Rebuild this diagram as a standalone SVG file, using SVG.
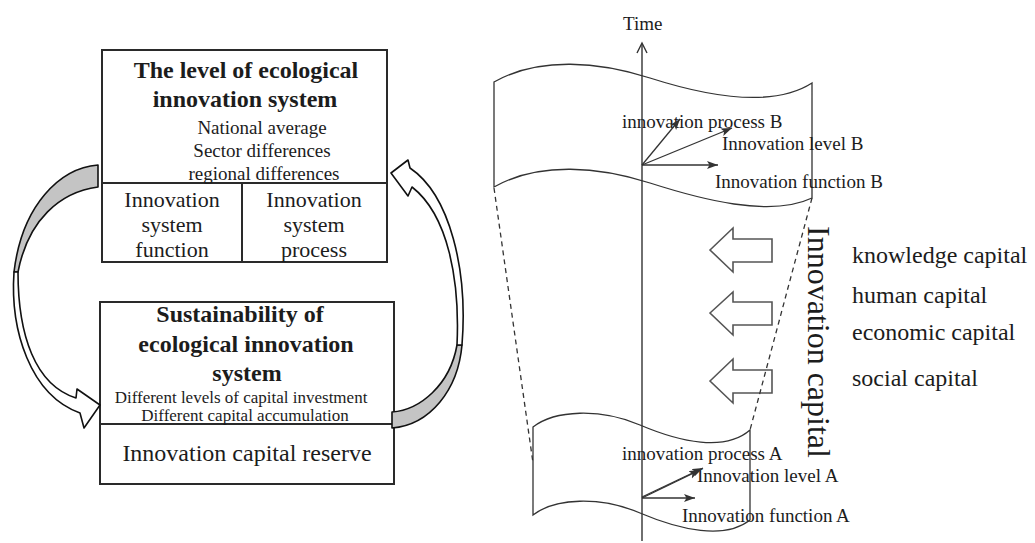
<svg xmlns="http://www.w3.org/2000/svg" width="1035" height="543" viewBox="0 0 1035 543">
<defs>
<style>
.t{font-family:"Liberation Serif","Times New Roman",serif;fill:#1c1c1c}
.b{font-weight:bold}
.box{fill:#fff;stroke:#2a2a2a;stroke-width:2}
.ln{stroke:#2a2a2a;stroke-width:2;fill:none}
.rib{fill:#fff;stroke:#333;stroke-width:1.3}
.dash{stroke:#333;stroke-width:1.3;stroke-dasharray:5 4;fill:none}
.vec{stroke:#333;stroke-width:1.3;fill:none;marker-end:url(#ah)}
.blk{fill:#fff;stroke:#555;stroke-width:1.6}
.cur{fill:#fff;stroke:#111;stroke-width:1.6;stroke-linejoin:round}
.curg{fill:#c4c4c4;stroke:#111;stroke-width:1.6;stroke-linejoin:round}
</style>
<marker id="ah" markerUnits="userSpaceOnUse" markerWidth="12" markerHeight="9" refX="11" refY="4" orient="auto">
<path d="M0,0 L11,4 L0,8 L2.5,4 Z" fill="#333"/>
</marker>
</defs>
<rect width="1035" height="543" fill="#fff"/>

<g id="top-box">
<rect class="box" x="102" y="50" width="285" height="212"/>
<line class="ln" x1="102" y1="183" x2="387" y2="183"/>
<line class="ln" x1="242" y1="183" x2="242" y2="262"/>
<text class="t b" font-size="24" text-anchor="middle" x="246" y="78">The level of ecological</text>
<text class="t b" font-size="24" text-anchor="middle" x="245" y="107">innovation system</text>
<text class="t" font-size="19" text-anchor="middle" x="262" y="134">National average</text>
<text class="t" font-size="19" text-anchor="middle" x="262" y="157">Sector differences</text>
<text class="t" font-size="19" text-anchor="middle" x="264" y="180">regional differences</text>
<text class="t" font-size="22" text-anchor="middle" x="172" y="207">Innovation</text>
<text class="t" font-size="22" text-anchor="middle" x="172" y="232">system</text>
<text class="t" font-size="22" text-anchor="middle" x="172" y="257">function</text>
<text class="t" font-size="22" text-anchor="middle" x="314" y="207">Innovation</text>
<text class="t" font-size="22" text-anchor="middle" x="314" y="232">system</text>
<text class="t" font-size="22" text-anchor="middle" x="314" y="257">process</text>
</g>

<g id="bottom-box">
<rect class="box" x="100" y="302" width="294" height="182"/>
<line class="ln" x1="100" y1="424" x2="394" y2="424"/>
<text class="t b" font-size="24" text-anchor="middle" x="240" y="322">Sustainability of</text>
<text class="t b" font-size="24" text-anchor="middle" x="246" y="352">ecological innovation</text>
<text class="t b" font-size="24" text-anchor="middle" x="247" y="381">system</text>
<text class="t" font-size="17" text-anchor="middle" x="241" y="403">Different levels of capital investment</text>
<text class="t" font-size="17" text-anchor="middle" x="245" y="421">Different capital accumulation</text>
<text class="t" font-size="24" text-anchor="middle" x="247" y="461">Innovation capital reserve</text>
</g>

<g id="ribbon-B">
<path class="rib" d="M494,82 C540,56 600,62 650,78 S770,110 812,83 L812,198 C770,218 700,199 650,183 C600,167 540,161 494,187 Z"/>
</g>

<g id="ribbon-A">
<path class="rib" d="M533,427 C555,410 600,408 640,425 S725,452 750,430 L750,520 C725,540 680,530 640,513 C600,496 555,498 533,515 Z"/>
</g>

<g id="capital-arrows">
<polygon class="blk" points="710,250 733,228 733,239 772,239 772,262 733,262 733,272"/>
<polygon class="blk" points="710,313 733,292 733,302 772,302 772,325 733,325 733,335"/>
<polygon class="blk" points="710,381 733,359 733,370 772,370 772,393 733,393 733,403"/>
</g>

<g id="labels">
<text class="t" font-size="19" x="623" y="30">Time</text>
<text class="t" font-size="19" x="622" y="128">innovation process B</text>
<text class="t" font-size="19" x="722" y="150">Innovation level B</text>
<text class="t" font-size="19" x="715" y="188">Innovation function B</text>
<text class="t" font-size="19" x="622" y="460">innovation process A</text>
<text class="t" font-size="19" x="697" y="482">Innovation level A</text>
<text class="t" font-size="19" x="682" y="522">Innovation function A</text>
<text class="t" font-size="32" transform="translate(808,226) rotate(90)" x="0" y="0">Innovation capital</text>
<text class="t" font-size="24" x="852" y="263">knowledge capital</text>
<text class="t" font-size="24" x="852" y="303">human capital</text>
<text class="t" font-size="24" x="852" y="340">economic capital</text>
<text class="t" font-size="24" x="852" y="386">social capital</text>
</g>

<g id="connectors">
<line class="dash" x1="494" y1="188" x2="533" y2="463"/>
<line class="dash" x1="812" y1="198" x2="750" y2="430"/>
<line x1="642" y1="44" x2="642" y2="541" stroke="#333" stroke-width="1.4"/>
<path d="M637,53 L642,43 L647,53" fill="none" stroke="#333" stroke-width="1.4"/>
<line class="vec" x1="642" y1="165" x2="680" y2="119"/>
<line class="vec" x1="642" y1="165" x2="732" y2="128"/>
<line class="vec" x1="642" y1="165" x2="718" y2="165"/>
<line class="vec" x1="642" y1="498" x2="700" y2="470"/>
<line class="vec" x1="642" y1="497" x2="703" y2="468" stroke-width="2"/>
<line class="vec" x1="642" y1="498" x2="695" y2="498"/>
<path class="curg" d="M98,165 C60,168 22,205 14,272 L18,272 C28,220 60,192 98,187 Z"/>
<path class="cur" d="M14,272 C10,330 30,395 80,413 L84,428 L100,405 L77,389 L76,398 C35,385 18,335 18,272 Z"/>
<path class="curg" d="M392,412 C420,410 450,385 457,345 L462,345 C458,390 430,425 392,428 Z"/>
<path class="cur" d="M462,345 C468,270 450,195 410,168 L408,160 L391,173 L408,196 L412,187 C448,215 460,280 457,345 Z"/>
</g>
</svg>
